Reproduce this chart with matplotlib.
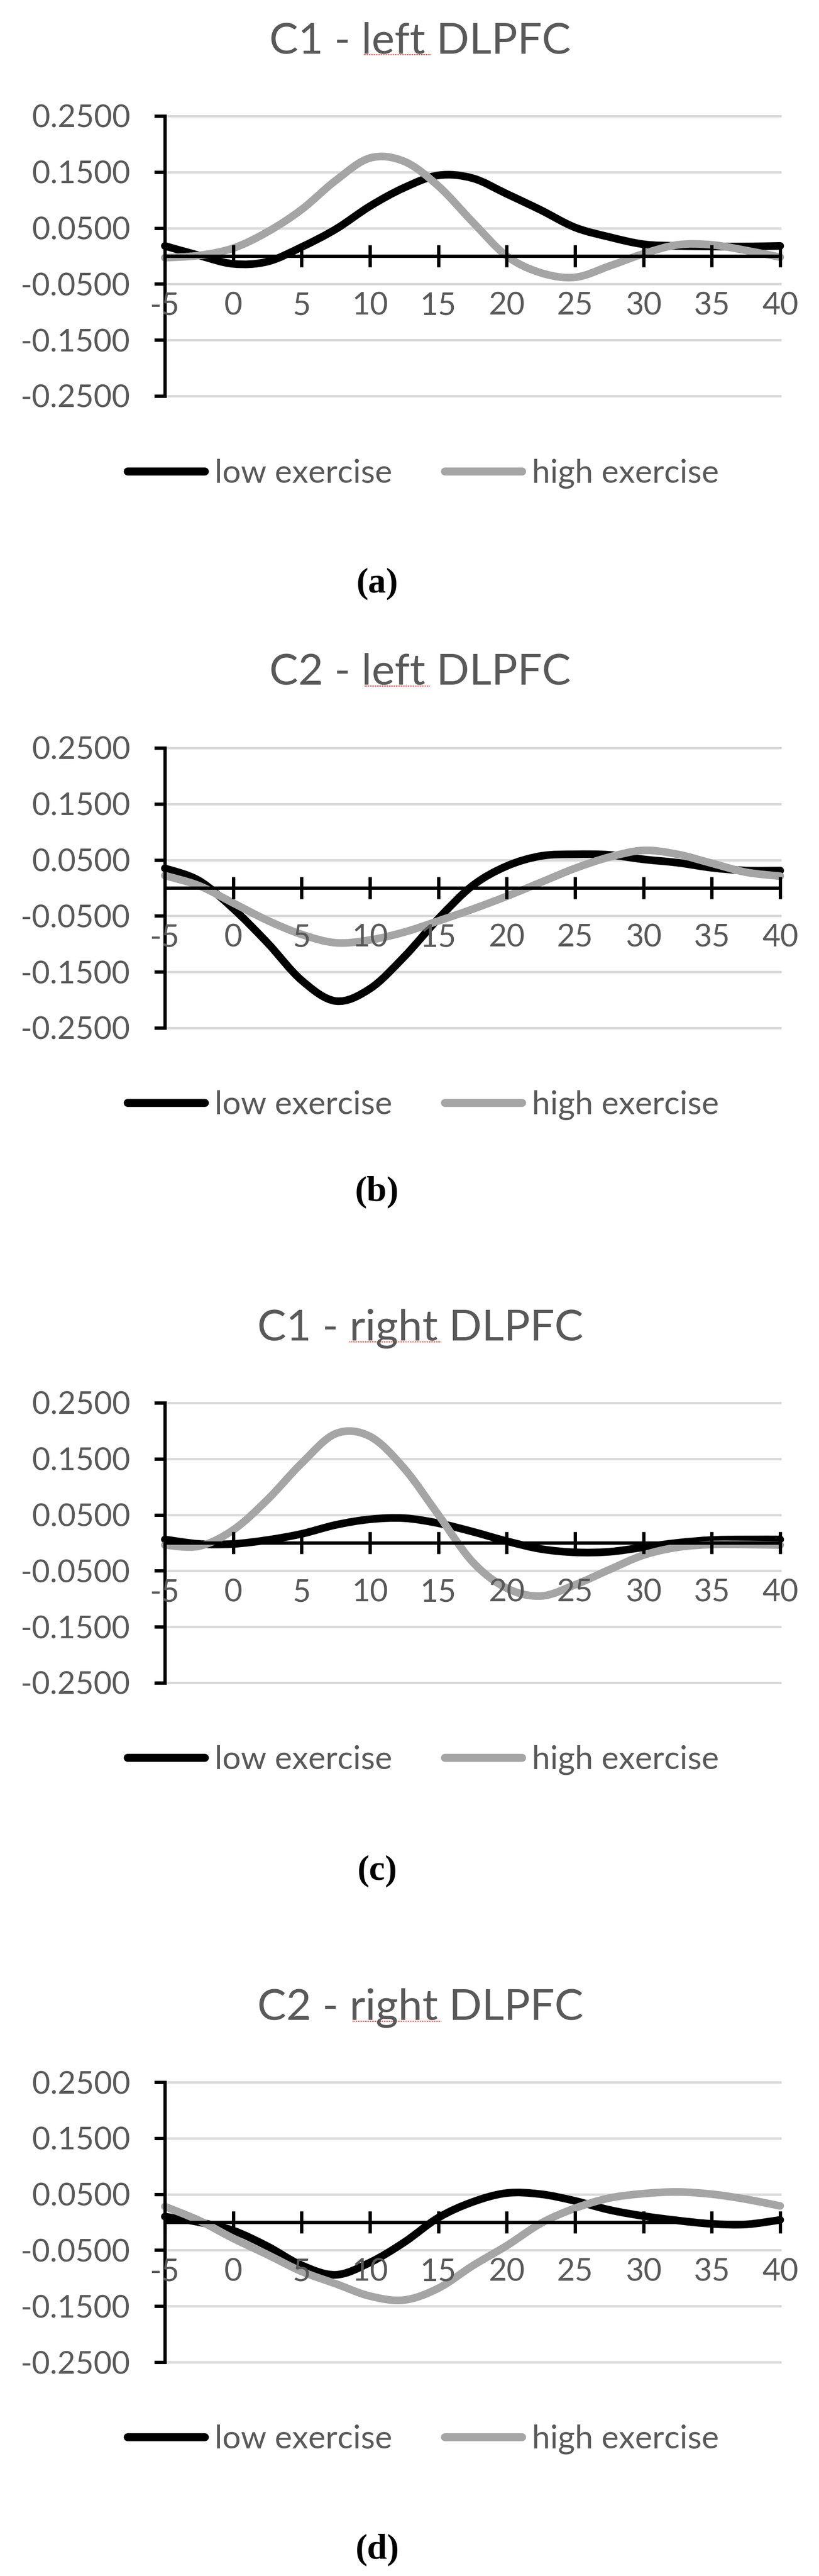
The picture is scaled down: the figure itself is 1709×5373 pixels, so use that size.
import matplotlib
matplotlib.use("Agg")
import matplotlib.pyplot as plt
import numpy as np
from matplotlib.path import Path
from matplotlib.patches import PathPatch
from matplotlib.lines import Line2D

plt.rcParams["font.family"] = ["Lato", "DejaVu Sans"]
plt.rcParams["axes.unicode_minus"] = False

FIG_W, FIG_H = 1709, 5373
TEXT_GREY = "#595959"

# time axis (s) and read-off values for each panel
time_s = [-5, -2.5, 0, 2.5, 5, 7.5, 10, 12.5, 15, 17.5, 20, 22.5, 25, 27.5, 30, 32.5, 35, 37.5, 40]

c1_left_low = [0.018, 0.001, -0.014, -0.010, 0.016, 0.048, 0.089, 0.122, 0.144, 0.139,
               0.111, 0.082, 0.051, 0.034, 0.021, 0.018, 0.017, 0.017, 0.018]
c1_left_high = [-0.003, 0.001, 0.014, 0.043, 0.083, 0.135, 0.175, 0.169, 0.125, 0.061,
                0.000, -0.030, -0.038, -0.018, 0.004, 0.020, 0.020, 0.010, -0.002]

c2_left_low = [0.035, 0.013, -0.037, -0.098, -0.165, -0.202, -0.180, -0.123, -0.055, 0.004,
               0.039, 0.057, 0.060, 0.059, 0.051, 0.045, 0.036, 0.031, 0.031]
c2_left_high = [0.022, 0.004, -0.027, -0.058, -0.083, -0.098, -0.093, -0.079, -0.059, -0.038,
                -0.015, 0.010, 0.035, 0.055, 0.067, 0.060, 0.044, 0.028, 0.021]

c1_right_low = [0.006, -0.002, -0.002, 0.005, 0.016, 0.032, 0.042, 0.044, 0.035, 0.020,
                0.003, -0.011, -0.017, -0.016, -0.008, 0.000, 0.005, 0.006, 0.006]
c1_right_high = [-0.004, -0.006, 0.023, 0.077, 0.142, 0.195, 0.190, 0.133, 0.050, -0.034,
                 -0.081, -0.095, -0.075, -0.048, -0.022, -0.008, -0.003, -0.003, -0.004]

c2_right_low = [0.010, 0.000, -0.015, -0.043, -0.077, -0.094, -0.072, -0.036, 0.008, 0.036,
                0.052, 0.050, 0.038, 0.022, 0.011, 0.003, -0.003, -0.004, 0.004]
c2_right_high = [0.028, 0.003, -0.029, -0.058, -0.088, -0.110, -0.132, -0.139, -0.118, -0.078,
                 -0.042, -0.002, 0.025, 0.043, 0.051, 0.054, 0.050, 0.041, 0.029]

titles = ["C1 - left DLPFC", "C2 - left DLPFC", "C1 - right DLPFC", "C2 - right DLPFC"]
sublabels = ["(a)", "(b)", "(c)", "(d)"]
series_names = ["low exercise", "high exercise"]
series_colors = ["#000000", "#A5A5A5"]
y_ticks = [-0.25, -0.15, -0.05, 0.05, 0.15, 0.25]
x_ticks = [-5, 0, 5, 10, 15, 20, 25, 30, 35, 40]

panels = [
    (c1_left_low, c1_left_high),
    (c2_left_low, c2_left_high),
    (c1_right_low, c1_right_high),
    (c2_right_low, c2_right_high),
]

# layout in pixels (top of plot area, title baseline, legend centre, label centre, underline span)
plot_top = [242, 1560, 2926, 4343]
plot_h = 584
title_base = [111, 1428, 2796, 4213]
legend_y = [988, 2305, 3671, 5088]
label_y = [1218, 2486, 3903, 5318]
underline_x = [(759, 899), (761, 897), (729, 921), (736, 921)]
AX_LEFT, AX_RIGHT = 344, 1628


def fx(px):
    return px / FIG_W


def fy(py):
    return 1 - py / FIG_H


def smooth_path(xs, ys):
    """Excel-like smoothed line through the points (Catmull-Rom as cubic Bezier)."""
    pts = np.column_stack([xs, ys]).astype(float)
    padded = np.vstack([pts[0], pts, pts[-1]])
    verts = [pts[0]]
    codes = [Path.MOVETO]
    for i in range(len(pts) - 1):
        p0, p1, p2, p3 = padded[i], padded[i + 1], padded[i + 2], padded[i + 3]
        verts += [p1 + (p2 - p0) / 6, p2 - (p3 - p1) / 6, p2]
        codes += [Path.CURVE4] * 3
    return Path(verts, codes)


fig = plt.figure(figsize=(FIG_W / 100, FIG_H / 100), dpi=100)

for i, (low, high) in enumerate(panels):
    ax = fig.add_axes([fx(AX_LEFT), fy(plot_top[i] + plot_h),
                       fx(AX_RIGHT - AX_LEFT), plot_h / FIG_H])
    ax.set_xlim(-5, 40)
    ax.set_ylim(-0.25, 0.25)

    for yv in y_ticks:
        ax.axhline(yv, color="#D9D9D9", lw=3.6, zorder=0.5, clip_on=False)

    for vals, color in zip((low, high), series_colors):
        patch = PathPatch(smooth_path(time_s, vals), fill=False, edgecolor=color,
                          lw=11.5, capstyle="round", joinstyle="round",
                          zorder=3, clip_on=False)
        ax.add_patch(patch)

    for side in ("top", "right"):
        ax.spines[side].set_visible(False)
    ax.spines["bottom"].set_position(("data", 0))
    for side in ("left", "bottom"):
        ax.spines[side].set_linewidth(5)
        ax.spines[side].set_zorder(4)
    ax.xaxis.set_zorder(4)
    ax.yaxis.set_zorder(4)

    ax.set_yticks(y_ticks)
    ax.set_yticklabels([f"{v:.4f}" for v in y_ticks])
    ax.set_xticks(x_ticks)
    ax.set_xticklabels([str(v) for v in x_ticks])
    ax.tick_params(axis="y", direction="out", length=16, width=5, pad=36,
                   labelsize=47, labelcolor=TEXT_GREY)
    ax.tick_params(axis="x", direction="inout", length=33, width=5, pad=37,
                   labelsize=47, labelcolor=TEXT_GREY)

    fig.text(fx(877), fy(title_base[i]), titles[i], ha="center", va="baseline",
             fontsize=65, color=TEXT_GREY)
    ux0, ux1 = underline_x[i]
    fig.add_artist(Line2D([fx(ux0), fx(ux1)], [fy(title_base[i] + 3)] * 2,
                          color="#FF0000", lw=1.3, linestyle=(0, (1, 1))))

    handles = [Line2D([], [], color=c, lw=12, solid_capstyle="round") for c in series_colors]
    fig.legend(handles, series_names, loc="center",
               bbox_to_anchor=(fx(883), fy(legend_y[i])), ncol=2, frameon=False,
               fontsize=49, labelcolor=TEXT_GREY, handlelength=2.37,
               handletextpad=0.31, columnspacing=1.6, borderpad=0, borderaxespad=0)

    fig.text(fx(787), fy(label_y[i]), sublabels[i], ha="center", va="center",
             fontsize=54, fontweight="bold", family=["Liberation Serif", "DejaVu Serif"])

fig.savefig("out.png", dpi=100)
plt.close(fig)
